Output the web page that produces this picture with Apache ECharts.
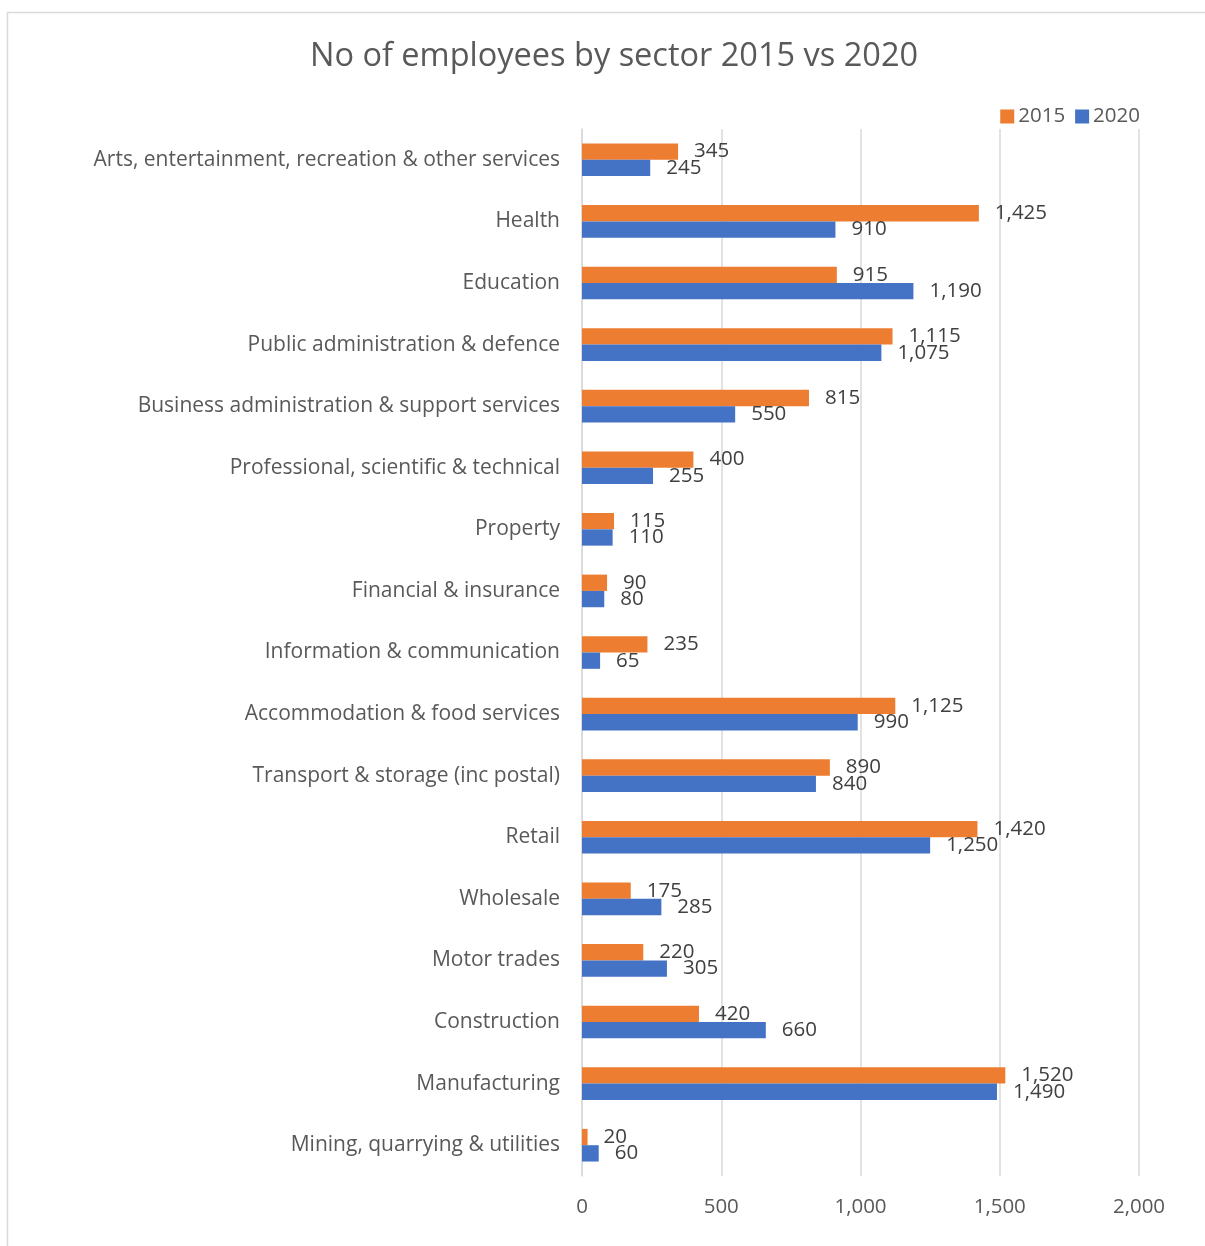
<!DOCTYPE html>
<html><head><meta charset="utf-8">
<script src="https://cdn.jsdelivr.net/npm/echarts@6/dist/echarts.min.js"></script>
<style>html,body{margin:0;padding:0;background:#fff}#c{width:1205px;height:1246px}</style>
</head><body><div id="c"></div>
<script>
const categories = [
  "Arts, entertainment, recreation & other services",
  "Health",
  "Education",
  "Public administration & defence",
  "Business administration & support services",
  "Professional, scientific & technical",
  "Property",
  "Financial & insurance",
  "Information & communication",
  "Accommodation & food services",
  "Transport & storage (inc postal)",
  "Retail",
  "Wholesale",
  "Motor trades",
  "Construction",
  "Manufacturing",
  "Mining, quarrying & utilities"
];
const values2015 = [345,1425,915,1115,815,400,115,90,235,1125,890,1420,175,220,420,1520,20];
const values2020 = [245,910,1190,1075,550,255,110,80,65,990,840,1250,285,305,660,1490,60];
const xTicks = [0,500,1000,1500,2000];

const FONT = '"Open Sans", sans-serif';
const chart = echarts.init(document.getElementById('c'), null, {renderer:'canvas'});
const fmt = v => v.toLocaleString('en-US');
chart.setOption({
  animation:false,
  backgroundColor:'#fff',
  graphic:[{type:'rect',shape:{x:7.5,y:12.5,width:1300,height:1300},style:{fill:'none',stroke:'#d9d9d9',lineWidth:1.5},silent:true}],
  title:{text:'No of employees by sector 2015 vs 2020',left:609,textAlign:'center',top:35,
    textStyle:{fontFamily:FONT,fontSize:32.5,fontWeight:'normal',color:'#595959'}},
  legend:{right:60,top:101,itemWidth:14,itemHeight:14,itemGap:10,icon:'rect',
    textStyle:{fontFamily:FONT,fontSize:20.5,color:'#595959',padding:[0,0,0,-1]},
    data:['2015','2020']},
  grid:{left:582,right:66,top:129,bottom:70,containLabel:false},
  xAxis:{type:'value',min:xTicks[0],max:xTicks[xTicks.length-1],interval:500,
    axisLine:{show:false},axisTick:{show:false},
    splitLine:{lineStyle:{color:'#d9d9d9',width:1.5}},
    axisLabel:{fontFamily:FONT,fontSize:20.5,color:'#595959',margin:21,formatter:v=>fmt(v)}},
  yAxis:{type:'category',data:categories,inverse:true,
    axisLine:{lineStyle:{color:'#d9d9d9',width:1.5}},axisTick:{show:false},
    axisLabel:{fontFamily:FONT,fontSize:21,color:'#595959',margin:22}},
  series:[
    {name:'2015',type:'bar',data:values2015,barGap:'0%',barCategoryGap:'47%',
      itemStyle:{color:'#ED7D31'},
      label:{show:true,position:'right',distance:16,formatter:p=>fmt(p.value),
        fontFamily:FONT,fontSize:20.5,color:'#404040'}},
    {name:'2020',type:'bar',data:values2020,
      itemStyle:{color:'#4472C4'},
      label:{show:true,position:'right',distance:16,formatter:p=>fmt(p.value),
        fontFamily:FONT,fontSize:20.5,color:'#404040'}}
  ]
});
</script></body></html>
